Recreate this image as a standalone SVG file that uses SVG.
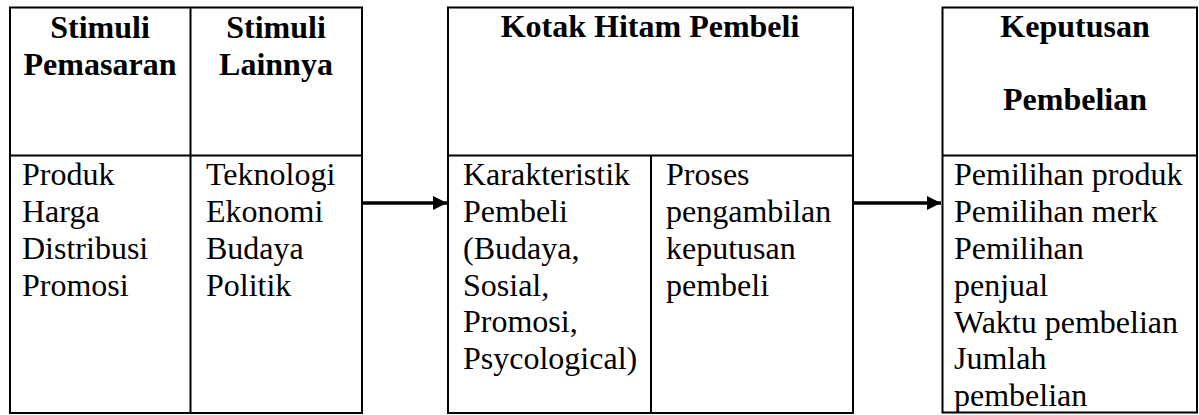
<svg xmlns="http://www.w3.org/2000/svg" width="1199" height="415" viewBox="0 0 1199 415">
<style>
.box{fill:#fff;stroke:#000;stroke-width:2}
.ln{stroke:#000;stroke-width:2}
.h{font-family:"Liberation Serif","Times New Roman",serif;font-size:32px;font-weight:bold;fill:#000;text-anchor:middle}
.t{font-family:"Liberation Serif","Times New Roman",serif;font-size:32px;fill:#000}
.arr{stroke:#000;stroke-width:3.5;fill:none}
</style>
<defs>
<marker id="ah" viewBox="0 0 10 10" refX="10" refY="5" markerWidth="4" markerHeight="4" markerUnits="strokeWidth" orient="auto">
<path d="M0,0 L10,5 L0,10 z" fill="#000"/>
</marker>
</defs>
<g id="stimuli">
<rect class="box" x="10" y="7.5" width="352" height="405.5"/>
<line class="ln" x1="10" y1="155.5" x2="362" y2="155.5"/>
<line class="ln" x1="190.5" y1="7.5" x2="190.5" y2="413"/>
<text class="h" x="100" y="38">Stimuli</text>
<text class="h" x="100" y="75">Pemasaran</text>
<text class="h" x="276" y="38">Stimuli</text>
<text class="h" x="276" y="75">Lainnya</text>
<text class="t" x="22" y="185">Produk</text>
<text class="t" x="22" y="222">Harga</text>
<text class="t" x="22" y="259">Distribusi</text>
<text class="t" x="22" y="296">Promosi</text>
<text class="t" x="206" y="185">Teknologi</text>
<text class="t" x="206" y="222">Ekonomi</text>
<text class="t" x="206" y="259">Budaya</text>
<text class="t" x="206" y="296">Politik</text>
</g>
<g id="kotak-hitam">
<rect class="box" x="448" y="7.5" width="405" height="405.5"/>
<line class="ln" x1="448" y1="155.5" x2="853" y2="155.5"/>
<line class="ln" x1="651" y1="155.5" x2="651" y2="413"/>
<text class="h" x="650" y="37">Kotak Hitam Pembeli</text>
<text class="t" x="463" y="185">Karakteristik</text>
<text class="t" x="463" y="222">Pembeli</text>
<text class="t" x="463" y="259">(Budaya,</text>
<text class="t" x="463" y="296">Sosial,</text>
<text class="t" x="463" y="332">Promosi,</text>
<text class="t" x="463" y="369">Psycological)</text>
<text class="t" x="666" y="185">Proses</text>
<text class="t" x="666" y="222">pengambilan</text>
<text class="t" x="666" y="259">keputusan</text>
<text class="t" x="666" y="296">pembeli</text>
</g>
<g id="keputusan">
<rect class="box" x="942.5" y="7.5" width="254.5" height="405"/>
<line class="ln" x1="942.5" y1="155.5" x2="1197" y2="155.5"/>
<text class="h" x="1075" y="37">Keputusan</text>
<text class="h" x="1075" y="110">Pembelian</text>
<text class="t" x="954" y="185">Pemilihan produk</text>
<text class="t" x="954" y="222">Pemilihan merk</text>
<text class="t" x="954" y="259">Pemilihan</text>
<text class="t" x="954" y="296">penjual</text>
<text class="t" x="954" y="333">Waktu pembelian</text>
<text class="t" x="954" y="369">Jumlah</text>
<text class="t" x="954" y="406">pembelian</text>
</g>
<g id="connectors">
<line class="arr" x1="363" y1="203" x2="447" y2="203" marker-end="url(#ah)"/>
<line class="arr" x1="854" y1="203" x2="941" y2="203" marker-end="url(#ah)"/>
</g>
</svg>
